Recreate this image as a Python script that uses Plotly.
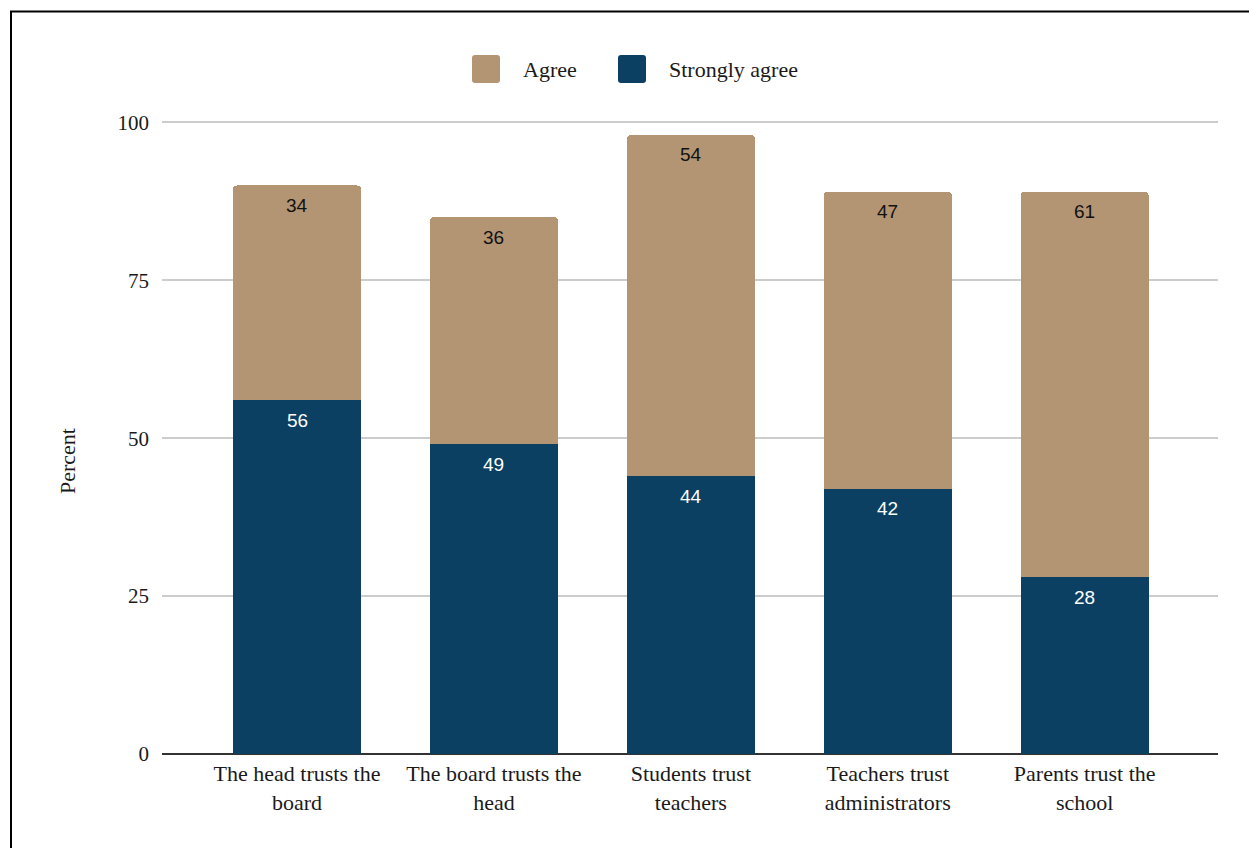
import plotly.graph_objects as go

# Survey results: share of respondents agreeing with each trust statement
categories = [
    "The head trusts the<br>board",
    "The board trusts the<br>head",
    "Students trust<br>teachers",
    "Teachers trust<br>administrators",
    "Parents trust the<br>school",
]
strongly_agree = [56, 49, 44, 42, 28]
agree = [34, 36, 54, 47, 61]
y_ticks = [0, 25, 50, 75, 100]

COLOR_AGREE = "#B39573"
COLOR_STRONG = "#0B4063"
SERIF = "Liberation Serif, Times New Roman, serif"
SANS = "Liberation Sans, Arial, sans-serif"
TEXT = "#1a1a1a"

W, H = 1249, 848
Y_MAX = 101
M_L, M_R, M_B = 162, 31, 94
M_T = round(H - M_B - 632 * Y_MAX / 100)
PW, PH = W - M_L - M_R, H - M_T - M_B


def px_x(p):
    return (p - M_L) / PW


def px_y(p):
    return (H - M_B - p) / PH


fig = go.Figure()
fig.add_bar(x=categories, y=strongly_agree, name="Strongly agree",
            marker=dict(color=COLOR_STRONG, line=dict(width=0)),
            width=0.65, showlegend=False, hoverinfo="y+name")
fig.add_bar(x=categories, y=agree, name="Agree",
            marker=dict(color=COLOR_AGREE, line=dict(width=0)),
            width=0.65, showlegend=False, hoverinfo="y+name")

# Value labels placed just under the top of each segment
annotations = []
for cat, s, a in zip(categories, strongly_agree, agree):
    annotations.append(dict(x=cat, y=s, text=str(s), showarrow=False,
                            yshift=-20, font=dict(family=SANS, size=19, color="white")))
    annotations.append(dict(x=cat, y=s + a, text=str(a), showarrow=False,
                            yshift=-20, font=dict(family=SANS, size=19, color="#111111")))


# Legend drawn as rounded swatches with labels above the plot
def rounded_rect(x0, y0, x1, y1, r):
    pts = [
        f"M {px_x(x0 + r)},{px_y(y0)}",
        f"L {px_x(x1 - r)},{px_y(y0)}",
        f"Q {px_x(x1)},{px_y(y0)} {px_x(x1)},{px_y(y0 + r)}",
        f"L {px_x(x1)},{px_y(y1 - r)}",
        f"Q {px_x(x1)},{px_y(y1)} {px_x(x1 - r)},{px_y(y1)}",
        f"L {px_x(x0 + r)},{px_y(y1)}",
        f"Q {px_x(x0)},{px_y(y1)} {px_x(x0)},{px_y(y1 - r)}",
        f"L {px_x(x0)},{px_y(y0 + r)}",
        f"Q {px_x(x0)},{px_y(y0)} {px_x(x0 + r)},{px_y(y0)}",
        "Z",
    ]
    return " ".join(pts)


legend_items = [("Agree", COLOR_AGREE, 472), ("Strongly agree", COLOR_STRONG, 618)]
shapes = []
for label, color, x0 in legend_items:
    shapes.append(dict(type="path", xref="paper", yref="paper",
                       path=rounded_rect(x0, 55, x0 + 28, 83, 3),
                       fillcolor=color, line=dict(width=0)))
    annotations.append(dict(x=px_x(x0 + 49), y=px_y(69), xref="paper", yref="paper",
                            xanchor="left", yanchor="middle", showarrow=False,
                            text=label, font=dict(family=SERIF, size=22, color=TEXT)))

# Y-axis title
annotations.append(dict(x=px_x(67), y=px_y(461), xref="paper", yref="paper",
                        xanchor="center", yanchor="middle", showarrow=False,
                        textangle=-90, text="Percent",
                        font=dict(family=SERIF, size=22, color=TEXT)))

# Outer frame (left and top edges)
shapes.append(dict(type="line", xref="paper", yref="paper",
                   x0=px_x(11), x1=px_x(11), y0=px_y(11), y1=px_y(H + 5),
                   line=dict(color="black", width=2)))
shapes.append(dict(type="line", xref="paper", yref="paper",
                   x0=px_x(10), x1=px_x(W + 5), y0=px_y(11.5), y1=px_y(11.5),
                   line=dict(color="black", width=2)))

fig.update_layout(
    width=W, height=H,
    margin=dict(l=M_L, r=M_R, t=M_T, b=M_B, pad=0),
    barmode="stack",
    barcornerradius=4,
    plot_bgcolor="white",
    paper_bgcolor="white",
    font=dict(family=SERIF, size=22, color=TEXT),
    shapes=shapes,
    annotations=annotations,
    showlegend=False,
)
fig.update_xaxes(
    range=[-0.6856, 4.677],
    showgrid=False,
    showline=False,
    ticks="",
    ticklabelstandoff=4,
    tickfont=dict(family=SERIF, size=22, color=TEXT),
)
fig.update_yaxes(
    range=[0, Y_MAX],
    tickvals=y_ticks,
    showgrid=True, gridcolor="#cccccc", gridwidth=2,
    zeroline=True, zerolinecolor="#333333", zerolinewidth=2,
    ticks="", ticklabelstandoff=12,
    tickfont=dict(family=SERIF, size=21, color=TEXT),
)

fig.write_html("out.html")
